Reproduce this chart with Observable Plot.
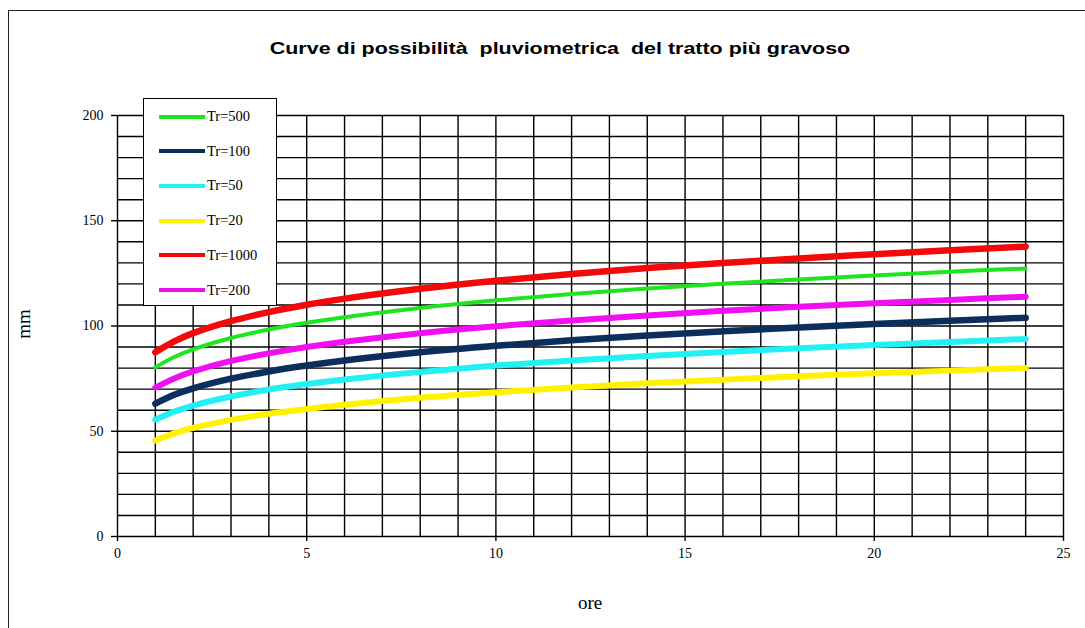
<!DOCTYPE html>
<html>
<head>
<meta charset="utf-8">
<script src="https://cdn.jsdelivr.net/npm/d3@7"></script>
<script src="https://cdn.jsdelivr.net/npm/@observablehq/plot@0.6"></script>
<style>
  html, body { margin: 0; padding: 0; background: #fff; }
  #wrap { position: relative; width: 1085px; height: 628px; overflow: hidden; background: #fff; }
  #frame { position: absolute; left: 8px; top: 10px; width: 1200px; height: 800px; border: 1.5px solid #222; box-sizing: border-box; }
  #title { position: absolute; left: 0; width: 1120px; top: 39px; text-align: center; font-family: "Liberation Sans", Arial, sans-serif; font-weight: bold; font-size: 16.5px; color: #000; white-space: pre; transform: scaleX(1.3); transform-origin: 560px 50%; }
  #chart { position: absolute; left: 0; top: 0; }
  #legend { position: absolute; left: 143px; top: 98px; width: 134px; height: 208px; box-sizing: border-box; border: 1px solid #000; background: #fff; }
  .item { position: absolute; left: 15px; height: 20px; display: flex; align-items: center; font-family: "Liberation Serif", "Times New Roman", serif; font-size: 14.5px; color: #000; }
  .swatch { width: 46px; height: 4px; margin-right: 2px; }
  .lab { position: absolute; font-family: "Liberation Serif", "Times New Roman", serif; font-size: 19px; color: #000; }
</style>
</head>
<body>
<div id="wrap">
  <div id="frame"></div>
  <div id="chart"></div>
  <div id="title">Curve di possibilità  pluviometrica  del tratto più gravoso</div>
  <div id="legend"></div>
  <div class="lab" id="ylab" style="left:9px; top:313px; transform: rotate(-90deg);">mm</div>
  <div class="lab" id="xlab" style="left:578px; top:592px;">ore</div>
</div>
<script>
// Data (hours vs mm)
const hours = [1, 1.5, 2, 3, 4, 5, 6, 8, 10, 12, 14, 16, 18, 20, 22, 24];
const tr500  = [80.4, 85.3, 88.9, 94.3, 98.3, 101.5, 104.2, 108.6, 112.2, 115.2, 117.8, 120.1, 122.1, 124.0, 125.8, 127.3];
const tr100  = [63.1, 67.3, 70.4, 75.0, 78.4, 81.2, 83.6, 87.5, 90.6, 93.2, 95.5, 97.5, 99.3, 101.0, 102.5, 103.9];
const tr50   = [55.5, 59.3, 62.2, 66.5, 69.8, 72.4, 74.6, 78.2, 81.2, 83.6, 85.8, 87.7, 89.4, 91.0, 92.4, 93.8];
const tr20   = [45.6, 49.0, 51.6, 55.4, 58.3, 60.6, 62.6, 65.9, 68.5, 70.8, 72.8, 74.5, 76.1, 77.5, 78.8, 80.0];
const tr1000 = [87.5, 92.7, 96.6, 102.3, 106.6, 110.1, 113.0, 117.7, 121.5, 124.7, 127.5, 129.9, 132.1, 134.1, 136.0, 137.7];
const tr200  = [70.7, 75.1, 78.4, 83.4, 87.0, 90.0, 92.5, 96.6, 99.9, 102.6, 105.0, 107.2, 109.1, 110.8, 112.4, 113.9];

const seriesNames  = ["Tr=500", "Tr=100", "Tr=50", "Tr=20", "Tr=1000", "Tr=200"];
const seriesValues = [tr500, tr100, tr50, tr20, tr1000, tr200];
const seriesColors = ["#1fe51f", "#0b2f5c", "#22f0f5", "#fff200", "#f20a0a", "#f00ff0"];
const seriesWidths = [4, 6.5, 6, 6, 6.5, 6];
const legendWidths = [4, 4, 4, 4, 4, 4];

const xTicks = [0, 5, 10, 15, 20, 25];
const yTicks = [0, 50, 100, 150, 200];
const xGrid = d3.range(0, 26, 1);
const yGrid = d3.range(0, 201, 10);

const lineMarks = seriesNames.map((name, i) => {
  const rows = hours.map((h, j) => ({t: h, v: seriesValues[i][j], s: name}));
  return Plot.line(rows, {x: "t", y: "v", stroke: seriesColors[i], strokeWidth: seriesWidths[i], curve: "catmull-rom", strokeLinecap: "round", strokeLinejoin: "round"});
});

const chart = Plot.plot({
  width: 1085,
  height: 628,
  marginLeft: 117,
  marginRight: 22,
  marginTop: 115,
  marginBottom: 92,
  x: {domain: [0, 25]},
  y: {domain: [0, 200]},
  style: {fontFamily: "'Liberation Serif', 'Times New Roman', serif", fontSize: "13px", color: "#000", background: "transparent", overflow: "visible"},
  marks: [
    Plot.gridX(xGrid, {stroke: "#000", strokeOpacity: 1, strokeWidth: 1.4}),
    Plot.gridY(yGrid, {stroke: "#000", strokeOpacity: 1, strokeWidth: 1.4}),
    Plot.axisX(xTicks, {tickSize: 5, tickPadding: 7, label: null, stroke: "#000", strokeWidth: 1.4, fontSize: 14}),
    Plot.axisY(yTicks, {tickSize: 6, tickPadding: 8, label: null, stroke: "#000", strokeWidth: 1.4, fontSize: 14}),
    ...lineMarks
  ]
});
document.getElementById("chart").appendChild(chart);

// Legend
const legend = document.getElementById("legend");
seriesNames.forEach((name, i) => {
  const item = document.createElement("div");
  item.className = "item";
  item.style.top = (7.5 + i * 34.7) + "px";
  const sw = document.createElement("span");
  sw.className = "swatch";
  sw.style.background = seriesColors[i];
  sw.style.height = legendWidths[i] + "px";
  const tx = document.createElement("span");
  tx.textContent = name;
  item.appendChild(sw);
  item.appendChild(tx);
  legend.appendChild(item);
});
</script>
</body>
</html>
